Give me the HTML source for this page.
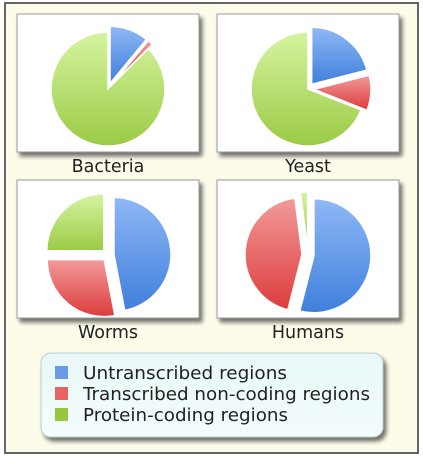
<!DOCTYPE html>
<html><head><meta charset="utf-8"><style>
body{margin:0;width:423px;height:460px;background:#fff;overflow:hidden;font-family:"DejaVu Sans","Liberation Sans",sans-serif;}
</style></head><body>
<svg width="423" height="460" viewBox="0 0 423 460" xmlns="http://www.w3.org/2000/svg">
<defs>
<linearGradient id="gB" x1="0" y1="0" x2="0" y2="1"><stop offset="0" stop-color="#8fb8f5"/><stop offset="1" stop-color="#3f7fdc"/></linearGradient>
<linearGradient id="gR" x1="0" y1="0" x2="0" y2="1"><stop offset="0" stop-color="#f29a9a"/><stop offset="1" stop-color="#dc3c3c"/></linearGradient>
<linearGradient id="gG" x1="0" y1="0" x2="0" y2="1"><stop offset="0" stop-color="#d6f4a0"/><stop offset="1" stop-color="#9acb45"/></linearGradient>
<linearGradient id="gL" x1="0" y1="0" x2="0" y2="1"><stop offset="0" stop-color="#e8f8f8"/><stop offset="1" stop-color="#f4fcfc"/></linearGradient>
<filter id="sh" x="-10%" y="-10%" width="130%" height="130%"><feDropShadow dx="3" dy="4" stdDeviation="2" flood-color="#000" flood-opacity="0.55"/></filter>
</defs>
<rect x="5" y="3" width="413" height="450" fill="#fdfbea" stroke="#333" stroke-width="1.5"/>
<g id="charts"></g>
<rect x="41" y="353" width="342" height="84" rx="10" fill="url(#gL)" stroke="#b8cfcf" filter="url(#sh)"/>
<rect x="55" y="366" width="13" height="13" fill="#6a9be8"/>
<rect x="55" y="387" width="13" height="13" fill="#e86464"/>
<rect x="55" y="408" width="13" height="13" fill="#97c640"/>
<text x="83" y="379" font-size="18" textLength="204" lengthAdjust="spacingAndGlyphs" fill="#222">Untranscribed regions</text>
<text x="83" y="400" font-size="18" textLength="287" lengthAdjust="spacingAndGlyphs" fill="#222">Transcribed non-coding regions</text>
<text x="83" y="421" font-size="18" textLength="205" lengthAdjust="spacingAndGlyphs" fill="#222">Protein-coding regions</text>
</svg>
<script>
const organisms = ["Bacteria","Yeast","Worms","Humans"];
const untranscribed = [11, 21, 47, 54];
const noncoding = [1.5, 10, 28, 44];
const proteinCoding = [87.5, 69, 25, 2];
const explode = [[1,1,0],[1,1,0],[1,1,1],[1,1,1]];
const NS="http://www.w3.org/2000/svg";
const g=document.getElementById('charts');
const boxes=[[17,14],[217,14],[17,180],[217,180]];
const fills=['url(#gB)','url(#gR)','url(#gG)'];
const sliceNames=['untranscribed','noncoding','protein'];
function pt(cx,cy,r,a){return [cx+r*Math.sin(a),cy-r*Math.cos(a)];}
organisms.forEach((name,i)=>{
  const [bx,by]=boxes[i];
  const box=document.createElementNS(NS,'rect');
  box.setAttribute('x',bx);box.setAttribute('y',by);box.setAttribute('width',182);box.setAttribute('height',138);
  box.setAttribute('fill','#fff');box.setAttribute('stroke','#999');box.setAttribute('filter','url(#sh)');
  
  
  g.appendChild(box);
  const vals=[untranscribed[i],noncoding[i],proteinCoding[i]];
  const tot=vals.reduce((a,b)=>a+b,0);
  const cx=bx+91, cy=by+75, r=57;
  let a0=0;
  vals.forEach((v,k)=>{
    const a1=a0+v/tot*2*Math.PI;
    const mid=(a0+a1)/2, off=explode[i][k]?6:0;
    const ox=off*Math.sin(mid), oy=-off*Math.cos(mid);
    const p0=pt(cx+ox,cy+oy,r,a0), p1=pt(cx+ox,cy+oy,r,a1);
    const large=(a1-a0)>Math.PI?1:0;
    const p=document.createElementNS(NS,'path');
    p.setAttribute('d',`M${cx+ox},${cy+oy} L${p0[0]},${p0[1]} A${r},${r} 0 ${large} 1 ${p1[0]},${p1[1]} Z`);
    p.setAttribute('fill',fills[k]);p.setAttribute('stroke','#fff');p.setAttribute('stroke-width','1.5');
    
    
    g.appendChild(p);
    a0=a1;
  });
  const t=document.createElementNS(NS,'text');
  t.setAttribute('x',bx+91);t.setAttribute('y',by+158);t.setAttribute('text-anchor','middle');
  t.setAttribute('font-size','17.5');t.setAttribute('fill','#222');
  t.textContent=name;
  
  
  g.appendChild(t);
});
</script>
</body></html>
